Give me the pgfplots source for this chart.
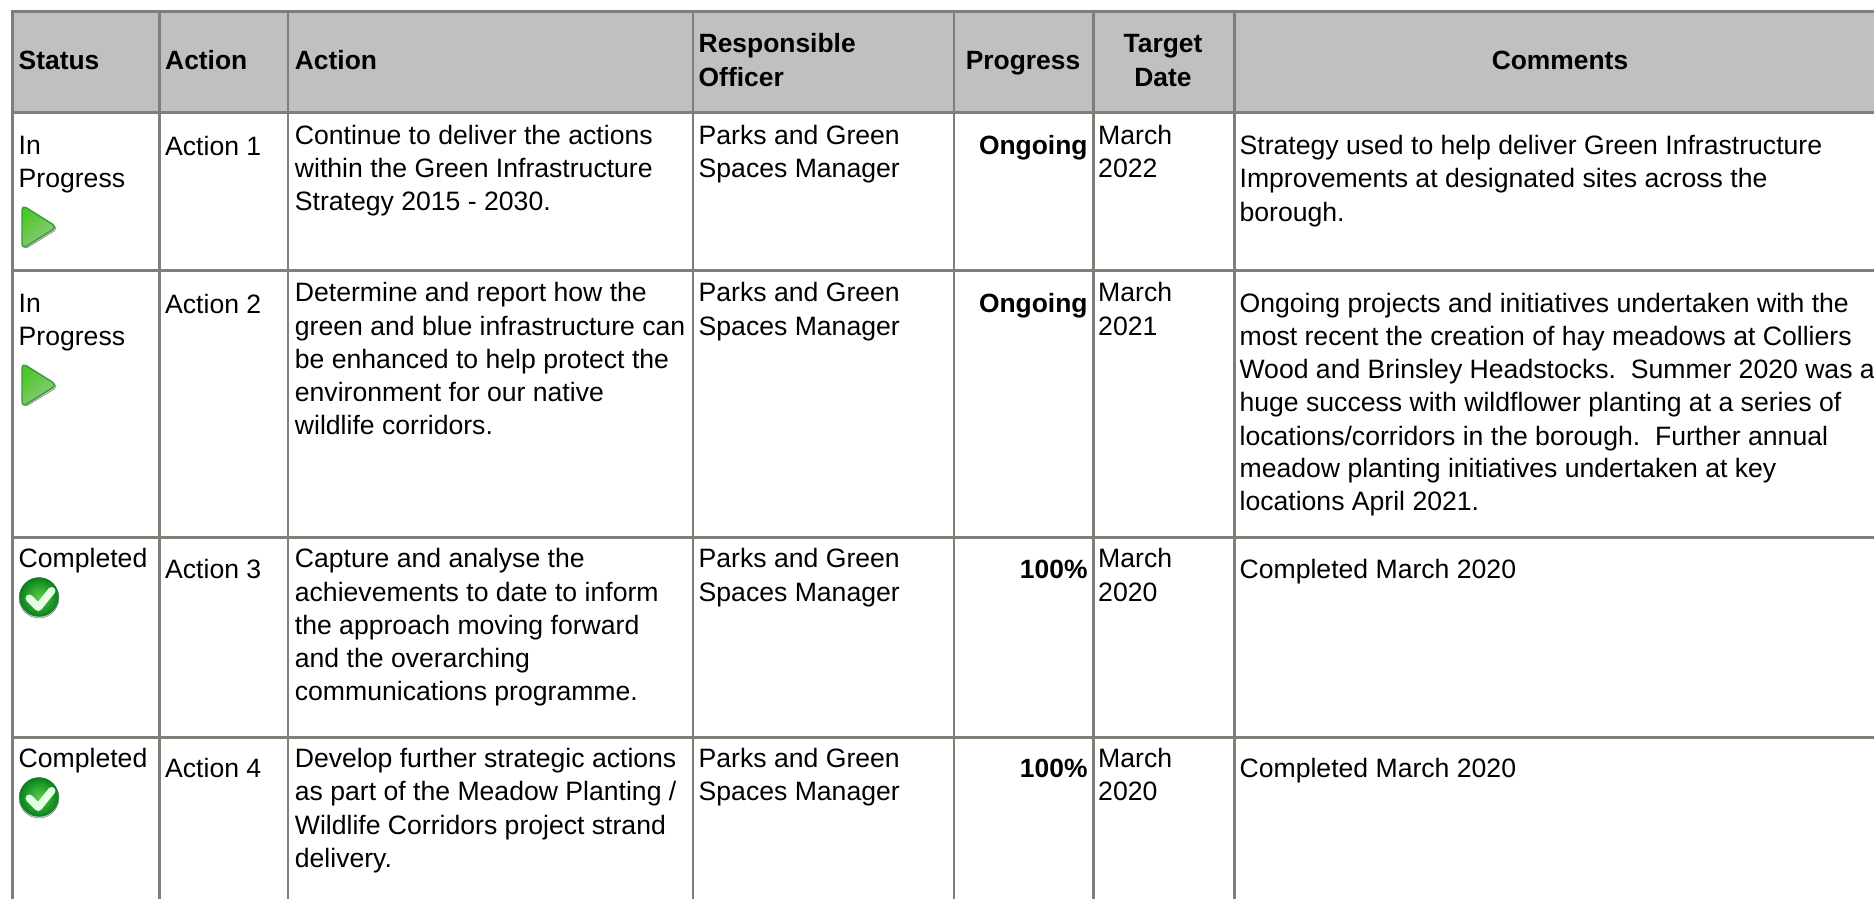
\documentclass[border=0pt]{standalone}
\usepackage{pgfplots}
\usepackage{fontspec}
\pgfplotsset{compat=1.18}
\setmainfont{Liberation Sans}
\definecolor{rule}{HTML}{7F7F77}
\definecolor{head}{HTML}{C0C0C0}
\pgfdeclareplotmark{playicon}{%
  \path[fill=black!35,rounded corners=5pt,opacity=.5] (-15,-21)--(-15,23)--(20,1.5)--cycle;
  \path[draw={rgb,255:red,55;green,155;blue,55},line width=1.4pt,rounded corners=5pt,
        shading=axis,bottom color={rgb,255:red,150;green,200;blue,140},top color={rgb,255:red,75;green,200;blue,35},shading angle=40]
        (-16.5,-22)--(-16.5,22)--(18.5,0)--cycle;}
\pgfdeclareplotmark{checkicon}{%
  \path[fill=black!30,opacity=.5] (0,1) circle (20pt);
  \path[shading=radial,inner color={rgb,255:red,90;green,205;blue,70},outer color={rgb,255:red,10;green,130;blue,30},draw={rgb,255:red,10;green,125;blue,40},line width=.8pt] (0,0) circle (19.3pt);
  \draw[white!90!green,line width=7.5pt,line cap=round,line join=round] (-9.7,1.3)--(-0.7,10.3)--(12.7,-6.3);}
\newcommand{\fs}{\fontsize{26.6}{33}\selectfont}
\newcommand{\fb}{\fontsize{26.4}{33}\selectfont\bfseries}
\newcommand{\T}[3]{\node[anchor=base west,inner sep=0pt] at (axis cs:#1,#2) {\fs #3};}
\newcommand{\B}[3]{\node[anchor=base west,inner sep=0pt] at (axis cs:#1,#2) {\fb #3};}
\newcommand{\C}[3]{\node[anchor=base,inner sep=0pt] at (axis cs:#1,#2) {\fb #3};}
\newcommand{\R}[3]{\node[anchor=base east,inner sep=0pt] at (axis cs:#1,#2) {\fb #3};}
\begin{document}
\begin{tikzpicture}[x=1pt,y=1pt]
\path[use as bounding box] (0,0) rectangle (1874pt,899pt);
\begin{axis}[at={(0,0)},anchor=south west,scale only axis,width=1874pt,height=899pt,
  xmin=0,xmax=1874,ymin=0,ymax=899,y dir=reverse,hide axis,clip=false]
% header band
\addplot[fill=head,draw=none,forget plot] coordinates {(12,12)(1874,12)(1874,112)(12,112)} --cycle;
% horizontal rules
\addplot[rule,line width=3pt,forget plot] coordinates {(11,12)(1874,12)};
\addplot[rule,line width=3pt,forget plot] coordinates {(11,112)(1874,112)};
\addplot[rule,line width=3pt,forget plot] coordinates {(11,270)(1874,270)};
\addplot[rule,line width=3pt,forget plot] coordinates {(11,537)(1874,537)};
\addplot[rule,line width=3pt,forget plot] coordinates {(11,737)(1874,737)};
% vertical rules
\addplot[rule,line width=2.8pt,forget plot] coordinates {(12.2,11)(12.2,899)};
\addplot[rule,line width=2.8pt,forget plot] coordinates {(159.3,11)(159.3,899)};
\addplot[rule,line width=2.8pt,forget plot] coordinates {(288,11)(288,899)};
\addplot[rule,line width=2.8pt,forget plot] coordinates {(693,11)(693,899)};
\addplot[rule,line width=2.8pt,forget plot] coordinates {(954,11)(954,899)};
\addplot[rule,line width=2.8pt,forget plot] coordinates {(1093.5,11)(1093.5,899)};
\addplot[rule,line width=2.8pt,forget plot] coordinates {(1234.5,11)(1234.5,899)};
% status icons
\addplot[only marks,mark=playicon,forget plot] coordinates {(38.5,227)(38.5,385)};
\addplot[only marks,mark=checkicon,forget plot] coordinates {(39,597)(39,797)};
% header
\B{18.5}{69.3}{Status}
\B{165}{69.3}{Action}
\B{294.7}{69.3}{Action}
\B{698.5}{52.3}{Responsible}
\B{698.5}{86}{Officer}
\C{1023}{69.3}{Progress}
\C{1163}{52.3}{Target}
\C{1163}{86}{Date}
\C{1560}{69.3}{Comments}
% row 1
\T{18.5}{154}{In}
\T{18.5}{187.5}{Progress}
\T{165}{155}{Action 1}
\T{294.7}{144.3}{Continue to deliver the actions}
\T{294.7}{177.4}{within the Green Infrastructure}
\T{294.7}{210}{Strategy 2015 - 2030.}
\T{698.5}{144.3}{Parks and Green}
\T{698.5}{177.4}{Spaces Manager}
\R{1087.7}{154}{Ongoing}
\T{1098}{144.3}{March}
\T{1098}{177.4}{2022}
\T{1239.4}{154}{Strategy used to help deliver Green Infrastructure}
\T{1239.4}{187.5}{Improvements at designated sites across the}
\T{1239.4}{221}{borough.}
% row 2
\T{18.5}{312}{In}
\T{18.5}{345.5}{Progress}
\T{165}{313}{Action 2}
\T{294.7}{301.3}{Determine and report how the}
\T{294.7}{335}{green and blue infrastructure can}
\T{294.7}{368}{be enhanced to help protect the}
\T{294.7}{401}{environment for our native}
\T{294.7}{434}{wildlife corridors.}
\T{698.5}{301.3}{Parks and Green}
\T{698.5}{335}{Spaces Manager}
\R{1087.7}{312}{Ongoing}
\T{1098}{301.3}{March}
\T{1098}{335}{2021}
\T{1239.4}{312}{Ongoing projects and initiatives undertaken with the}
\T{1239.4}{345}{most recent the creation of hay meadows at Colliers}
\T{1239.4}{378.5}{Wood and Brinsley Headstocks.\ \ Summer 2020 was a}
\T{1239.4}{411.5}{huge success with wildflower planting at a series of}
\T{1239.4}{445}{locations/corridors in the borough.\ \ Further annual}
\T{1239.4}{477.5}{meadow planting initiatives undertaken at key}
\T{1239.4}{510.5}{locations April 2021.}
% row 3
\T{18.5}{567.3}{Completed}
\T{165}{578}{Action 3}
\T{294.7}{567.8}{Capture and analyse the}
\T{294.7}{601}{achievements to date to inform}
\T{294.7}{634}{the approach moving forward}
\T{294.7}{667}{and the overarching}
\T{294.7}{700.3}{communications programme.}
\T{698.5}{567.8}{Parks and Green}
\T{698.5}{601}{Spaces Manager}
\R{1087.7}{578}{100\%}
\T{1098}{567.8}{March}
\T{1098}{601}{2020}
\T{1239.4}{578}{Completed March 2020}
% row 4
\T{18.5}{767.3}{Completed}
\T{165}{777.5}{Action 4}
\T{294.7}{767.3}{Develop further strategic actions}
\T{294.7}{800.7}{as part of the Meadow Planting /}
\T{294.7}{834}{Wildlife Corridors project strand}
\T{294.7}{867.3}{delivery.}
\T{698.5}{767.3}{Parks and Green}
\T{698.5}{800.7}{Spaces Manager}
\R{1087.7}{777.5}{100\%}
\T{1098}{767.3}{March}
\T{1098}{800.7}{2020}
\T{1239.4}{777.5}{Completed March 2020}
\end{axis}
\end{tikzpicture}
\end{document}
